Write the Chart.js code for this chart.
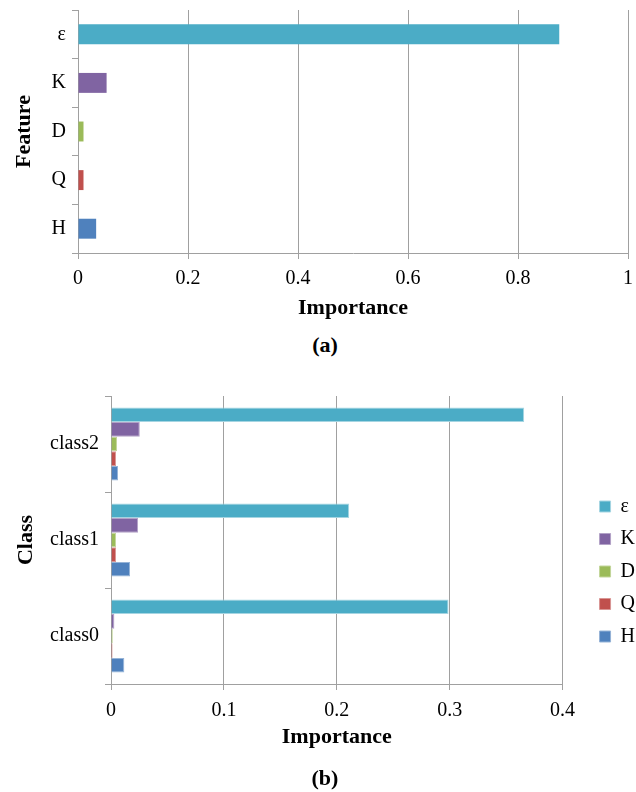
<!DOCTYPE html>
<html>
<head>
<meta charset="utf-8">
<script src="https://cdn.jsdelivr.net/npm/chart.js@4/dist/chart.umd.min.js"></script>
<style>
  html, body { margin: 0; padding: 0; background: #fff; width: 636px; height: 792px; overflow: hidden; position: relative; }
  .box { position: absolute; left: 0; }
  #wrapA { top: 0; width: 636px; height: 330px; }
  #wrapB { top: 380px; width: 645px; height: 412px; }
  .caption { position: absolute; left: 0; width: 650px; text-align: center; font: bold 22px "Liberation Serif", "Times New Roman", serif; line-height: 26px; color: #000; }
</style>
</head>
<body>
<div class="box" id="wrapA"><canvas id="chartA" width="636" height="330"></canvas></div>
<div class="caption" style="top:332px">(a)</div>
<div class="box" id="wrapB"><canvas id="chartB" width="645" height="412"></canvas></div>
<div class="caption" style="top:765px">(b)</div>
<script>
// Feature names and colours
const features = ['ε', 'K', 'D', 'Q', 'H'];
const featureColors = ['#4BACC6', '#8064A2', '#9BBB59', '#C0504D', '#4F81BD'];
const featureEdges = ['#A5D5E2', '#B3A2C7', '#C3D69B', '#D99694', '#95B3D7'];

// (a) overall importance of each feature
const overallImportance = [0.875, 0.052, 0.010, 0.010, 0.033];

// (b) importance per class, one list per feature
const classes = ['class2', 'class1', 'class0'];
const epsByClass = [0.366, 0.211, 0.299];
const kByClass = [0.0255, 0.024, 0.003];
const dByClass = [0.0053, 0.0045, 0.0016];
const qByClass = [0.0045, 0.0045, 0.0014];
const hByClass = [0.0062, 0.0169, 0.0118];

// Axis ranges
const importanceMaxA = 1;
const importanceStepA = 0.2;
const importanceMaxB = 0.4;
const importanceStepB = 0.1;

const serif = '"Liberation Serif", "Times New Roman", serif';
Chart.defaults.font.family = serif;
Chart.defaults.color = '#000';
Chart.defaults.animation = false;

const gridGray = '#a0a0a0';
const tickFont = { family: serif, size: 20 };
const titleFont = { family: serif, size: 22, weight: 'bold' };

// plain number labels: 0, 0.2, ..., 1
const plainNumber = v => String(Math.round(v * 100) / 100);

// fixed axis sizes, no extra room reserved for edge labels
const fixHeight = h => s => { s.height = h; s.paddingLeft = 0; s.paddingRight = 0; };
const fixWidth = w => s => { s.width = w; s.paddingTop = 0; s.paddingBottom = 0; };

new Chart(document.getElementById('chartA'), {
  type: 'bar',
  data: {
    labels: features,
    datasets: [{
      label: 'Importance',
      data: overallImportance,
      backgroundColor: featureColors,
      borderWidth: 0,
      barPercentage: 0.41,
      categoryPercentage: 1
    }]
  },
  options: {
    indexAxis: 'y',
    responsive: false,
    layout: { padding: { top: 10, right: 8, left: 0, bottom: 0 } },
    plugins: { legend: { display: false }, tooltip: { enabled: false } },
    scales: {
      x: {
        min: 0, max: importanceMaxA,
        ticks: { stepSize: importanceStepA, font: tickFont, color: '#000', padding: 8, maxRotation: 0, callback: plainNumber },
        grid: { color: gridGray, lineWidth: 1, tickLength: 6 },
        border: { color: gridGray },
        title: { display: true, text: 'Importance', font: titleFont, color: '#000', padding: { top: 0, bottom: 8 } },
        afterFit: fixHeight(77)
      },
      y: {
        grid: { offset: true, drawOnChartArea: false, color: gridGray, tickLength: 6 },
        border: { color: gridGray },
        ticks: { font: tickFont, color: '#000', padding: 6 },
        title: { display: true, text: 'Feature', font: titleFont, color: '#000', padding: { top: 11, bottom: 0 } },
        afterFit: fixWidth(78)
      }
    }
  }
});

const classSeries = [epsByClass, kByClass, dByClass, qByClass, hByClass];

new Chart(document.getElementById('chartB'), {
  type: 'bar',
  data: {
    labels: classes,
    datasets: features.map((name, i) => ({
      label: name,
      data: classSeries[i],
      backgroundColor: featureColors[i],
      borderColor: featureEdges[i],
      borderWidth: 1,
      barPercentage: 1,
      categoryPercentage: 0.76
    }))
  },
  options: {
    indexAxis: 'y',
    responsive: false,
    layout: { padding: { top: 16, right: 0, left: 0, bottom: 45 } },
    plugins: {
      tooltip: { enabled: false },
      legend: {
        position: 'right',
        labels: { font: tickFont, color: '#000', boxWidth: 11, boxHeight: 11, padding: 12.5 }
      }
    },
    scales: {
      x: {
        min: 0, max: importanceMaxB,
        ticks: { stepSize: importanceStepB, font: tickFont, color: '#000', padding: 9, maxRotation: 0, callback: plainNumber },
        grid: { color: gridGray, lineWidth: 1, tickLength: 6 },
        border: { color: gridGray },
        title: { display: true, text: 'Importance', font: { family: serif, size: 22, weight: 'bold', lineHeight: 0.9 }, color: '#000', padding: { top: 0, bottom: 0 } },
        afterFit: fixHeight(63)
      },
      y: {
        grid: { offset: true, drawOnChartArea: false, color: gridGray, tickLength: 6 },
        border: { color: gridGray },
        ticks: { font: tickFont, color: '#000', padding: 6 },
        title: { display: true, text: 'Class', font: titleFont, color: '#000', padding: { top: 13, bottom: 0 } },
        afterFit: fixWidth(111)
      },
      // empty gap between the plot and the legend
      spacer: {
        type: 'linear',
        position: 'right',
        display: true,
        grid: { display: false },
        border: { display: false },
        ticks: { display: false },
        afterFit: fixWidth(24.5)
      }
    }
  }
});
</script>
</body>
</html>
